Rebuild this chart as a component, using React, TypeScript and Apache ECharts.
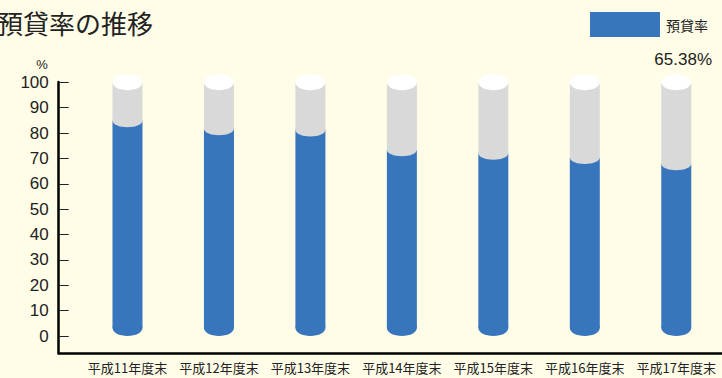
import React, { useEffect, useRef } from "react";
import * as echarts from "echarts";

const categories = ["平成11年度末", "平成12年度末", "平成13年度末", "平成14年度末", "平成15年度末", "平成16年度末", "平成17年度末"];
const loanRatio = [82.3, 79.1, 78.6, 70.9, 69.5, 67.8, 65.38];
const seriesName = "預貸率";
const titleText = "預貸率の推移";
const yMax = 100;

const BLUE = "#3776BC";
const GRAY = "#D9D9D9";
const BG = "#FFFDE8";

export default function App() {
  const ref = useRef<HTMLDivElement>(null);
  useEffect(() => {
    document.body.style.margin = "0";
    const chart = echarts.init(ref.current!, null, { renderer: "svg" });
    const last = loanRatio[loanRatio.length - 1];
    chart.setOption({
      animation: false,
      backgroundColor: BG,
      title: {
        text: titleText,
        left: -3,
        top: 9,
        padding: 0,
        textStyle: { fontFamily: "Noto Sans CJK JP", fontSize: 26, fontWeight: "normal", color: "#222" },
      },
      legend: {
        left: 590,
        top: 12,
        padding: 0,
        itemWidth: 70,
        itemHeight: 25,
        itemGap: 5,
        selectedMode: false,
        data: [{ name: seriesName, icon: "rect", itemStyle: { color: BLUE } }],
        textStyle: { fontFamily: "Noto Sans CJK JP", fontSize: 14, color: "#222", padding: [0, 0, 0, 1] },
      },
      graphic: [
        {
          type: "text",
          right: 10,
          top: 51,
          style: {
            text: `${last}%`,
            font: '17px "Liberation Sans"',
            fill: "#222",
          },
        },
      ],
      grid: [
        { left: 81.75, width: 647.5, top: 82.3, bottom: 42 },
        { left: 58.7, right: 0, top: 82, bottom: 24.7 },
      ],
      xAxis: [
        {
          type: "category",
          gridIndex: 0,
          data: categories,
          axisLine: { show: false },
          axisTick: { show: false },
          axisLabel: {
            margin: 25,
            fontFamily: "Noto Sans CJK JP",
            fontSize: 13,
            color: "#222",
            interval: 0,
          },
        },
        {
          type: "value",
          gridIndex: 1,
          min: 0,
          max: 1,
          axisLine: { show: true, lineStyle: { color: "#000", width: 2.5 } },
          axisTick: { show: false },
          axisLabel: { show: false },
          splitLine: { show: false },
        },
      ],
      yAxis: [
        {
          type: "value",
          gridIndex: 0,
          min: 0,
          max: yMax,
          interval: 10,
          offset: 23,
          name: "%",
          nameLocation: "end",
          nameGap: 11,
          nameTextStyle: { fontFamily: "Liberation Sans", fontSize: 13, color: "#222", align: "right", padding: [0, 11, 0, 0] },
          axisLine: { show: false },
          axisTick: { show: true, inside: true, length: 10, lineStyle: { color: "#222", width: 1 } },
          axisLabel: { margin: 10, fontFamily: "Liberation Sans", fontSize: 17, color: "#222" },
          splitLine: { show: false },
        },
        {
          type: "value",
          gridIndex: 0,
          min: 0,
          max: yMax,
          interval: 50,
          offset: 23,
          axisLine: { show: false },
          axisTick: { show: true, inside: true, length: 18, lineStyle: { color: "#222", width: 1 } },
          axisLabel: { show: false },
          splitLine: { show: false },
        },
        {
          type: "value",
          gridIndex: 1,
          min: 0,
          max: 1,
          axisLine: { show: true, lineStyle: { color: "#000", width: 2.5 } },
          axisTick: { show: false },
          axisLabel: { show: false },
          splitLine: { show: false },
        },
      ],
      series: [
        {
          name: seriesName,
          type: "custom",
          xAxisIndex: 0,
          yAxisIndex: 0,
          itemStyle: { color: BLUE },
          encode: { x: 0, y: 1 },
          data: loanRatio.map((v, i) => [i, v]),
          renderItem: (params: any, api: any) => {
            const i = api.value(0);
            const v = api.value(1);
            const [cx, yTop] = api.coord([i, yMax]);
            const [, yV] = api.coord([i, v]);
            const [, y0] = api.coord([i, 0]);
            const hw = 15;
            const ryCap = 8;
            const ryMid = 6.5;
            const ryBot = 8;
            const midC = yV - ryMid;
            const botC = y0 - ryBot;
            return {
              type: "group",
              children: [
                { type: "rect", shape: { x: cx - hw, y: midC, width: hw * 2, height: botC - midC }, style: { fill: BLUE } },
                { type: "ellipse", shape: { cx, cy: botC, rx: hw, ry: ryBot }, style: { fill: BLUE } },
                { type: "rect", shape: { x: cx - hw, y: yTop, width: hw * 2, height: midC - yTop }, style: { fill: GRAY } },
                { type: "ellipse", shape: { cx, cy: midC, rx: hw, ry: ryMid }, style: { fill: GRAY } },
                { type: "ellipse", shape: { cx, cy: yTop, rx: hw, ry: ryCap }, style: { fill: "#FFFFFF" } },
              ],
            };
          },
        },
      ],
    });
    return () => chart.dispose();
  }, []);
  return <div ref={ref} style={{ width: 722, height: 378 }} />;
}
